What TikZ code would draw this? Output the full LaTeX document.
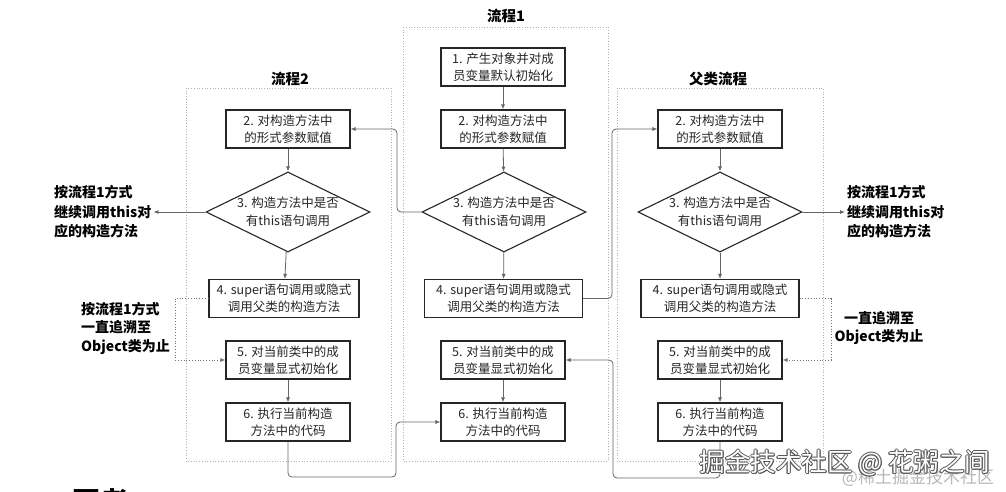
\documentclass[tikz,border=0pt]{standalone}
\usepackage{fontspec}
\setmainfont{Noto Sans CJK SC}
\usetikzlibrary{shapes.geometric,arrows.meta}
\newcommand\outlinetext[1]{\leavevmode
  \rlap{\color{black!65}\hspace{-0.8pt}#1}%
  \rlap{\color{black!65}\hspace{0.8pt}#1}%
  \rlap{\color{black!65}\raisebox{0.8pt}{#1}}%
  \rlap{\color{black!65}\raisebox{-0.8pt}{#1}}%
  \rlap{\color{black!65}\hspace{0.6pt}\raisebox{0.6pt}{#1}}%
  \rlap{\color{black!65}\hspace{-0.6pt}\raisebox{-0.6pt}{#1}}%
  \rlap{\color{black!65}\hspace{0.6pt}\raisebox{-0.6pt}{#1}}%
  \rlap{\color{black!65}\hspace{-0.6pt}\raisebox{0.6pt}{#1}}%
  {\color{white}#1}}
\begin{document}
\begin{tikzpicture}[x=1pt,y=-1pt,
  box/.style={draw=black!85, line width=1.1pt, fill=white, minimum width=124pt, minimum height=38pt, inner sep=1pt, align=center, font=\fontsize{12.5}{16.5}\selectfont, text=black!85},
  widebox/.style={box, minimum width=158pt},
  dia/.style={draw=black!85, line width=1.1pt, diamond, minimum width=164pt, minimum height=80pt, inner sep=0pt, fill=white},
  dtext/.style={align=center, inner sep=0pt, font=\fontsize{12.5}{18}\selectfont, text=black!85},
  flow/.style={draw=black!60, line width=0.8pt, -{Latex[length=5pt,width=4pt]}},
  link/.style={flow, rounded corners=4pt},
  dotlink/.style={draw=black!55, line width=0.8pt, dotted, -{Latex[length=5pt,width=4pt]}},
  frame/.style={draw=black!30, dotted, line width=0.7pt},
  title/.style={font=\bfseries\fontsize{14.5}{17}\selectfont, inner sep=0pt},
  side/.style={font=\bfseries\fontsize{14}{19.5}\selectfont, align=left, inner sep=0pt},
  side2/.style={font=\bfseries\fontsize{14}{18.5}\selectfont, inner sep=0pt},
  wm/.style={font=\fontsize{25.5}{28}\selectfont, inner sep=0pt}
]
\useasboundingbox (0,0) rectangle (1006,491);
\fill[white] (0,0) rectangle (1006,491);

% frames
\draw[frame] (403,27) rectangle (608,461);
\draw[frame] (186,88) rectangle (391,461);
\draw[frame] (617,88) rectangle (823,461);
\node[title] (t1) at (506,16) {流程1};
\node[title] (t2) at (290,79) {流程2};
\node[title] (t3) at (718,79) {父类流程};

% flow 1
\node[box] (a1) at (503,67) {1. 产生对象并对成\\员变量默认初始化};
\node[box] (a2) at (503,129) {2. 对构造方法中\\的形式参数赋值};
\node[dia] (a3) at (504,212) {};
\node[dtext] (a3t) at (a3) {3. 构造方法中是否\\有this语句调用};
\node[widebox] (a4) at (503.5,298.5) {4. super语句调用或隐式\\调用父类的构造方法};
\node[box] (a5) at (503,360) {5. 对当前类中的成\\员变量显式初始化};
\node[box] (a6) at (503,422) {6. 执行当前构造\\方法中的代码};

% flow 2
\node[box] (b2) at (288,129) {2. 对构造方法中\\的形式参数赋值};
\node[dia] (b3) at (288,212) {};
\node[dtext] (b3t) at (b3) {3. 构造方法中是否\\有this语句调用};
\node[widebox, minimum width=150pt] (b4) at (284,298.5) {4. super语句调用或隐式\\调用父类的构造方法};
\node[box] (b5) at (288,360) {5. 对当前类中的成\\员变量显式初始化};
\node[box] (b6) at (288,422) {6. 执行当前构造\\方法中的代码};

% parent flow
\node[box] (c2) at (720,129) {2. 对构造方法中\\的形式参数赋值};
\node[dia] (c3) at (720,212) {};
\node[dtext] (c3t) at (c3) {3. 构造方法中是否\\有this语句调用};
\node[widebox] (c4) at (720,298.5) {4. super语句调用或隐式\\调用父类的构造方法};
\node[box] (c5) at (720,360) {5. 对当前类中的成\\员变量显式初始化};
\node[box] (c6) at (720,422) {6. 执行当前构造\\方法中的代码};

% side labels
\node[side, anchor=west] (l1) at (54,212) {按流程1方式\\继续调用this对\\应的构造方法};
\node[side, anchor=west] (r1) at (847,212) {按流程1方式\\继续调用this对\\应的构造方法};
\node[side2, align=left, anchor=west] (l2) at (81,328) {按流程1方式\\一直追溯至\\Object类为止};
\node[side2, align=center] (r2) at (879,328) {一直追溯至\\Object类为止};

% vertical arrows
\foreach \p in {a,b,c} {
  \draw[flow] (\p2) -- (\p3);
  \draw[flow] (\p3) -- (\p4);
  \draw[flow] (\p5) -- (\p6);
}
\draw[flow] (a1) -- (a2);

% side arrows
\draw[flow] (b3.west) -- ([xshift=2pt]l1.east |- b3.west);
\draw[flow] (c3.east) -- ([xshift=-2pt]r1.west |- c3.east);

% dotted connectors
\coordinate (d1) at (175,0);
\draw[dotlink] (b4.west) -| (d1 |- b5.west) -- (b5.west);
\coordinate (d2) at (831,0);
\draw[dotlink] (c4.east) -| (d2 |- c5.east) -- (c5.east);

% inter-flow connectors
\coordinate (k1) at (397,0);
\draw[link] (a3.west) -| (k1 |- b2.east) -- (b2.east);
\coordinate (k2) at (612,0);
\draw[link] (a4.east) -| (k2 |- c2.west) -- (c2.west);
\coordinate (k3) at (396,477);
\draw[link] (b6.south) |- (k3) |- (a6.west);
\coordinate (k4) at (613,478);
\draw[link] (c6.south) |- (k4) |- (a5.east);

% cut-off caption at the bottom
\begin{scope}
\clip (0,0) rectangle (1006,491);
\node[anchor=north west, inner sep=0pt, font=\bfseries\fontsize{28}{28}\selectfont] (cap) at (72,488) {图者};
\end{scope}

% watermark
\node[font=\fontsize{17}{20}\selectfont, text=black!28, inner sep=0pt] (wm0) at (918,478) {@稀土掘金技术社区};
\node[wm] (wm) at (845,463) {\outlinetext{掘金技术社区 @ 花粥之间}};
\end{tikzpicture}
\end{document}
